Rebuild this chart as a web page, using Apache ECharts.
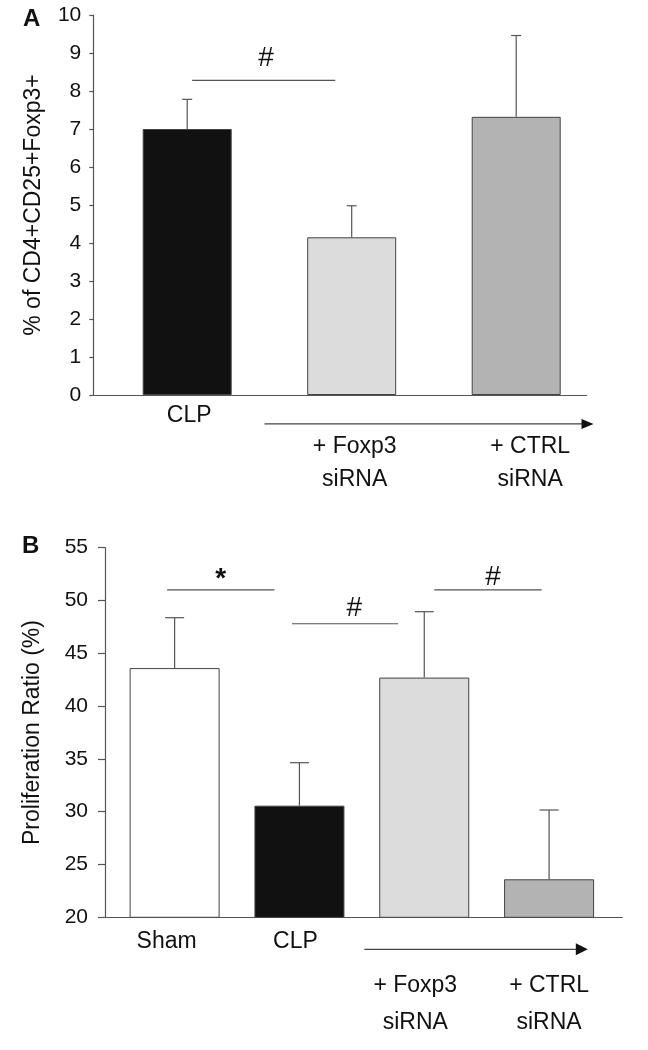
<!DOCTYPE html>
<html><head><meta charset="utf-8">
<script src="https://cdn.jsdelivr.net/npm/echarts@6/dist/echarts.min.js"></script>
<style>html,body{margin:0;padding:0;background:#fff}#c{width:648px;height:1050px}</style>
</head><body><div id="c"></div>
<script>
// ---------- Panel A data ----------
const catsA = ['CLP', '+ Foxp3\nsiRNA', '+ CTRL\nsiRNA'];
const meanA = [7.0, 4.15, 7.32];
const errA = [0.78, 0.83, 2.14];
const colorsA = ['#111111', '#dcdcdc', '#b3b3b3'];
const yMinA = 0, yMaxA = 10, yStepA = 1;
const yNameA = '% of CD4+CD25+Foxp3+';
const sigA = [{x1: 0.03, x2: 0.90, y: 8.28, mx: 0.48, my: 8.87, mark: '#'}];
const arrowA = {x1: 0.47, x2: 2.47, y: -0.76};

// ---------- Panel B data ----------
const catsB = ['Sham', 'CLP', '+ Foxp3\nsiRNA', '+ CTRL\nsiRNA'];
const meanB = [43.6, 30.57, 42.7, 23.6];
const errB = [4.77, 4.07, 6.24, 6.56];
const colorsB = ['#ffffff', '#111111', '#dcdcdc', '#b3b3b3'];
const yMinB = 20, yMaxB = 55, yStepB = 5;
const yNameB = 'Proliferation Ratio (%)';
const sigB = [
  {x1: -0.06, x2: 0.80, y: 51.0, mx: 0.37, my: 52.0, mark: '*'},
  {x1: 0.94, x2: 1.79, y: 47.8, mx: 1.44, my: 49.3, mark: '#'},
  {x1: 2.08, x2: 2.94, y: 51.0, mx: 2.55, my: 52.2, mark: '#'}
];
const arrowB = {x1: 1.52, x2: 3.31, y: 16.97};

// label horizontal nudges (px, style only)
const nudgeA = [2, 3, 14];
const nudgeB = [-8, -4, -9, 0];

const FONT = "'Liberation Sans', Arial, Helvetica, sans-serif";
const AX = '#555';

const chart = echarts.init(document.getElementById('c'), null, {renderer: 'canvas'});

function frameX(gi) {
  return {gridIndex: gi, type: 'value', min: 0, max: 1, position: 'bottom',
    axisLine: {show: true, onZero: false, lineStyle: {color: AX, width: 1.2}},
    axisTick: {show: false}, axisLabel: {show: false}, splitLine: {show: false}};
}
function rowX(gi, cats, firstRow, margin, lh, fs, nudge) {
  const rich = {};
  nudge.forEach((n, i) => {
    rich['s' + i] = {fontFamily: FONT, fontSize: fs, color: '#111', lineHeight: lh,
      padding: n >= 0 ? [0, 0, 0, 2 * n] : [0, -2 * n, 0, 0]};
  });
  return {gridIndex: gi, type: 'category', data: cats, position: 'bottom',
    axisLine: {show: false, onZero: false}, axisTick: {show: false}, splitLine: {show: false},
    axisLabel: {interval: 0, margin: margin, fontFamily: FONT, fontSize: fs, color: '#111', lineHeight: lh,
      rich: rich,
      formatter: (v, idx) => ((v.indexOf('\n') < 0) === firstRow)
        ? v.split('\n').map(l => '{s' + idx + '|' + l + '}').join('\n') : ''}};
}
function hiddenValX(gi, n) {
  return {gridIndex: gi, type: 'value', min: -0.5, max: n - 0.5, show: false, position: 'bottom',
    axisLine: {onZero: false}};
}
function frameY(gi, min, max, step, name, tickLen, lblMargin, nameGap) {
  return {gridIndex: gi, type: 'value', min: min, max: max, interval: step,
    name: name, nameLocation: 'middle', nameRotate: 90, nameGap: nameGap,
    nameTextStyle: {fontFamily: FONT, fontSize: 23, color: '#111'},
    axisLine: {show: true, onZero: false, lineStyle: {color: AX, width: 1.2}},
    axisTick: {show: true, inside: false, length: tickLen, lineStyle: {color: AX, width: 1.2}},
    axisLabel: {margin: lblMargin, fontFamily: FONT, fontSize: 21, color: '#111'},
    splitLine: {show: false}};
}
function hiddenY(gi, min, max) {
  return {gridIndex: gi, type: 'value', min: min, max: max, show: false, axisLine: {onZero: false}};
}

function barSeries(xi, yi, means, colors, width) {
  return {type: 'bar', xAxisIndex: xi, yAxisIndex: yi, barWidth: width, silent: true,
    data: means.map((v, i) => ({value: v, itemStyle: {color: colors[i], borderColor: '#444', borderWidth: 1}}))};
}
function errSeries(xi, yi, means, errs, cap) {
  return {type: 'custom', xAxisIndex: xi, yAxisIndex: yi, silent: true, clip: false, z: 5,
    data: means.map((v, i) => [i, v, v + errs[i]]),
    renderItem: (params, api) => {
      const b = api.coord([api.value(0), api.value(1)]);
      const t = api.coord([api.value(0), api.value(2)]);
      const st = {stroke: '#555', lineWidth: 1.2};
      return {type: 'group', children: [
        {type: 'line', shape: {x1: b[0], y1: b[1], x2: t[0], y2: t[1]}, style: st},
        {type: 'line', shape: {x1: t[0] - cap / 2, y1: t[1], x2: t[0] + cap / 2, y2: t[1]}, style: st}
      ]};
    }};
}
function sigSeries(xi, yi, sig, fs) {
  return {type: 'custom', xAxisIndex: xi, yAxisIndex: yi, silent: true, clip: false, z: 5,
    data: sig.map(s => [s.x1, s.x2, s.y, s.mx, s.my]),
    renderItem: (params, api) => {
      const p1 = api.coord([api.value(0), api.value(2)]);
      const p2 = api.coord([api.value(1), api.value(2)]);
      const pm = api.coord([api.value(3), api.value(4)]);
      const s = sig[params.dataIndex];
      return {type: 'group', children: [
        {type: 'line', shape: {x1: p1[0], y1: p1[1], x2: p2[0], y2: p2[1]}, style: {stroke: '#555', lineWidth: 1.2}},
        {type: 'text', style: {text: s.mark, x: pm[0], y: pm[1], align: 'center', verticalAlign: 'middle',
          fontFamily: FONT, fontSize: fs, fontWeight: s.mark === '*' ? 'bold' : 'normal', fill: '#111'}}
      ]};
    }};
}
function arrowSeries(xi, yi, a, hw) {
  return {type: 'custom', xAxisIndex: xi, yAxisIndex: yi, silent: true, clip: false, z: 5,
    data: [[a.x1, a.x2, a.y]],
    renderItem: (params, api) => {
      const p1 = api.coord([api.value(0), api.value(2)]);
      const p2 = api.coord([api.value(1), api.value(2)]);
      const L = 12;
      return {type: 'group', children: [
        {type: 'line', shape: {x1: p1[0], y1: p1[1], x2: p2[0] - L + 1, y2: p2[1]}, style: {stroke: '#444', lineWidth: 1.2}},
        {type: 'polygon', shape: {points: [[p2[0], p2[1]], [p2[0] - L, p2[1] - hw], [p2[0] - L, p2[1] + hw]]}, style: {fill: '#111'}}
      ]};
    }};
}

const option = {
  animation: false,
  backgroundColor: '#ffffff',
  title: [
    {text: 'A', left: 18, top: 2, textStyle: {fontFamily: FONT, fontSize: 24, fontWeight: 'bold', color: '#111'}},
    {text: 'B', left: 17, top: 529, textStyle: {fontFamily: FONT, fontSize: 24, fontWeight: 'bold', color: '#111'}}
  ],
  grid: [
    {left: 93.3, top: 15, width: 493.4, height: 380},
    {left: 104.95, top: 15, width: 493.5, height: 380},
    {left: 105, top: 547.7, width: 517.3, height: 369.6},
    {left: 112.2, top: 547.7, width: 499.3, height: 369.6}
  ],
  xAxis: [
    frameX(0),
    rowX(1, catsA, true, 9, 24, 23, nudgeA),
    rowX(1, catsA, false, 35, 33, 23, nudgeA),
    hiddenValX(1, catsA.length),
    frameX(2),
    rowX(3, catsB, true, 12, 24, 23, nudgeB),
    rowX(3, catsB, false, 50, 37, 23, nudgeB),
    hiddenValX(3, catsB.length)
  ],
  yAxis: [
    frameY(0, yMinA, yMaxA, yStepA, yNameA, 4, 12, 48),
    hiddenY(1, yMinA, yMaxA),
    frameY(2, yMinB, yMaxB, yStepB, yNameB, 7, 17, 61),
    hiddenY(3, yMinB, yMaxB)
  ],
  series: [
    barSeries(1, 1, meanA, colorsA, 89),
    errSeries(1, 1, meanA, errA, 10),
    sigSeries(3, 1, sigA, 28),
    arrowSeries(3, 1, arrowA, 5),
    barSeries(5, 3, meanB, colorsB, 90),
    errSeries(5, 3, meanB, errB, 19),
    sigSeries(7, 3, sigB, 28),
    arrowSeries(7, 3, arrowB, 6)
  ]
};
chart.setOption(option);
</script>
</body></html>
